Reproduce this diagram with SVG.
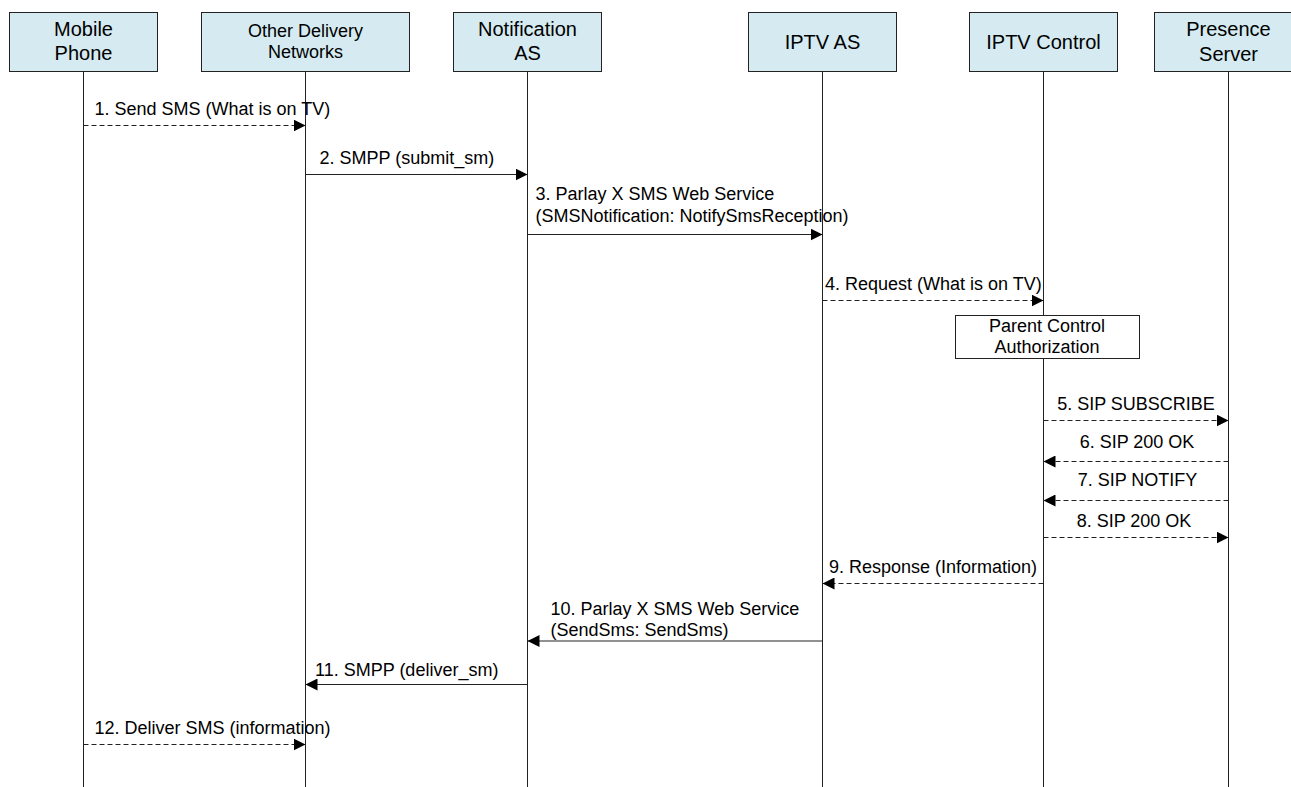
<svg xmlns="http://www.w3.org/2000/svg" width="1291" height="787" viewBox="0 0 1291 787">
<style>
text{font-family:"Liberation Sans",Arial,sans-serif;fill:#000}
.hb{fill:#d5ebf1;stroke:#222;stroke-width:1}
.hn{font-size:20px;text-anchor:middle}
.hs{font-size:18px;text-anchor:middle}
.life{stroke:#222;stroke-width:1;fill:none}
.msg{stroke:#222;stroke-width:1;fill:none;marker-end:url(#ah)}
.dash{stroke-dasharray:5,3}
.lb{font-size:18px}
.lc{font-size:18px;text-anchor:middle}
.act{fill:#fff;stroke:#222;stroke-width:1}
</style>
<defs>
<marker id="ah" markerUnits="userSpaceOnUse" markerWidth="12" markerHeight="12" refX="12" refY="6" orient="auto">
<path d="M0,0 L12,6 L0,12 z" fill="#000"/>
</marker>
</defs>
<rect width="1291" height="787" fill="#fff"/>
<g id="lifelines">
<line class="life" x1="83.5" y1="71.5" x2="83.5" y2="787"/>
<line class="life" x1="305.5" y1="71.5" x2="305.5" y2="787"/>
<line class="life" x1="527.5" y1="71.5" x2="527.5" y2="787"/>
<line class="life" x1="822.5" y1="71.5" x2="822.5" y2="787"/>
<line class="life" x1="1043.5" y1="71.5" x2="1043.5" y2="787"/>
<line class="life" x1="1228.5" y1="71.5" x2="1228.5" y2="787"/>
</g>
<g id="mobile-phone">
<rect class="hb" x="9.5" y="12.5" width="148" height="59"/>
<text class="hn" x="83.5" y="36">Mobile</text>
<text class="hn" x="83.5" y="60">Phone</text>
</g>
<g id="other-delivery-networks">
<rect class="hb" x="201.5" y="12.5" width="208" height="59"/>
<text class="hs" x="305.5" y="36.5">Other Delivery</text>
<text class="hs" x="305.5" y="57.5">Networks</text>
</g>
<g id="notification-as">
<rect class="hb" x="453.5" y="12.5" width="148" height="59"/>
<text class="hn" x="527.5" y="36">Notification</text>
<text class="hn" x="527.5" y="60">AS</text>
</g>
<g id="iptv-as">
<rect class="hb" x="748.5" y="12.5" width="148" height="59"/>
<text class="hn" x="822.5" y="48.5">IPTV AS</text>
</g>
<g id="iptv-control">
<rect class="hb" x="969.5" y="12.5" width="148" height="59"/>
<text class="hn" x="1043.5" y="48.5">IPTV Control</text>
</g>
<g id="presence-server">
<rect class="hb" x="1154.5" y="12.5" width="148" height="59"/>
<text class="hn" x="1228.5" y="36">Presence</text>
<text class="hn" x="1228.5" y="61">Server</text>
</g>
<g id="parent-control">
<rect class="act" x="955.5" y="315.5" width="184" height="43"/>
<text class="lc" x="1047" y="331.5">Parent Control</text>
<text class="lc" x="1047" y="353">Authorization</text>
</g>
<g id="connectors">
<line class="msg dash" x1="83.5" y1="125.5" x2="305.5" y2="125.5"/>
<line class="msg" x1="305.5" y1="174.5" x2="527.5" y2="174.5"/>
<line class="msg" x1="527.5" y1="234.5" x2="822.5" y2="234.5"/>
<line class="msg dash" x1="822.5" y1="300.5" x2="1043.5" y2="300.5"/>
<line class="msg dash" x1="1043.5" y1="420.5" x2="1228.5" y2="420.5"/>
<line class="msg dash" x1="1228.5" y1="461.5" x2="1043.5" y2="461.5"/>
<line class="msg dash" x1="1228.5" y1="500.5" x2="1043.5" y2="500.5"/>
<line class="msg dash" x1="1043.5" y1="537.5" x2="1228.5" y2="537.5"/>
<line class="msg dash" x1="1043.5" y1="583.5" x2="822.5" y2="583.5"/>
<line class="msg" x1="822.5" y1="641" x2="527.5" y2="641"/>
<line class="msg" x1="527.5" y1="684.5" x2="305.5" y2="684.5"/>
<line class="msg dash" x1="83.5" y1="744.5" x2="305.5" y2="744.5"/>
</g>
<g id="labels">
<text class="lb" x="94.5" y="114.5">1. Send SMS (What is on TV)</text>
<text class="lb" x="319.5" y="164">2. SMPP (submit_sm)</text>
<text class="lb" x="535.5" y="200">3. Parlay X SMS Web Service</text>
<text class="lb" x="535.5" y="222">(SMSNotification: NotifySmsReception)</text>
<text class="lb" x="825" y="290">4. Request (What is on TV)</text>
<text class="lc" x="1136" y="409.5">5. SIP SUBSCRIBE</text>
<text class="lc" x="1137" y="447.5">6. SIP 200 OK</text>
<text class="lc" x="1137.5" y="486">7. SIP NOTIFY</text>
<text class="lc" x="1134" y="527">8. SIP 200 OK</text>
<text class="lc" x="933" y="573">9. Response (Information)</text>
<text class="lb" x="550.5" y="615">10. Parlay X SMS Web Service</text>
<text class="lb" x="550.5" y="636">(SendSms: SendSms)</text>
<text class="lb" x="315" y="676">11. SMPP (deliver_sm)</text>
<text class="lb" x="94.5" y="734">12. Deliver SMS (information)</text>
</g>
</svg>
